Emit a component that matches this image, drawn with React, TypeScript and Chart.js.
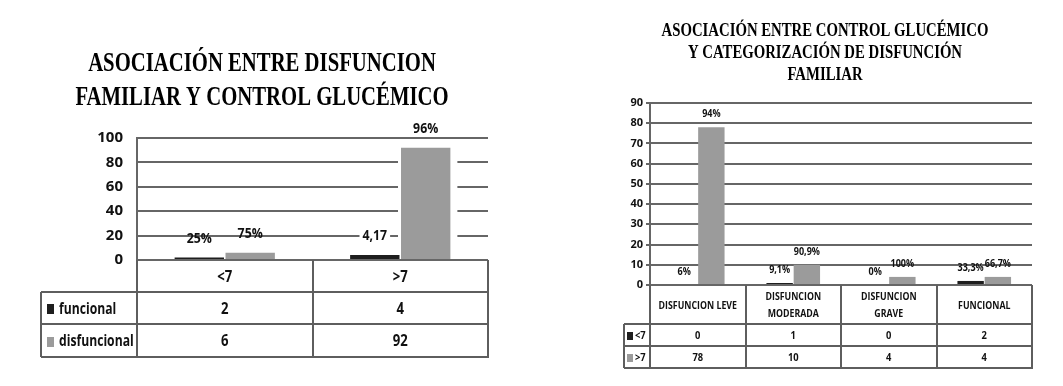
import React, { useEffect, useRef } from "react";
import { Chart, registerables } from "chart.js";

Chart.register(...registerables);

// ---------------- Left chart data ----------------
const leftTitle = ["ASOCIACIÓN ENTRE DISFUNCION", "FAMILIAR Y CONTROL GLUCÉMICO"];
const leftCategories = ["<7", ">7"];
const leftSeriesNames = ["funcional", "disfuncional"];
const leftFuncional = [2, 4];
const leftDisfuncional = [6, 92];
const leftFuncionalLabels = ["25%", "4,17"];
const leftDisfuncionalLabels = ["75%", "96%"];
const leftFuncionalLabelBoxed = [false, true];
const leftDisfuncionalLabelBoxed = [false, false];
const leftYMax = 100;
const leftYStep = 20;

// ---------------- Right chart data ----------------
const rightTitle = ["ASOCIACIÓN ENTRE CONTROL GLUCÉMICO", "Y CATEGORIZACIÓN DE DISFUNCIÓN", "FAMILIAR"];
const rightCategories = [["DISFUNCION LEVE"], ["DISFUNCION", "MODERADA"], ["DISFUNCION", "GRAVE"], ["FUNCIONAL"]];
const rightSeriesNames = ["<7", ">7"];
const rightMenor7 = [0, 1, 0, 2];
const rightMayor7 = [78, 10, 4, 4];
const rightMenor7Labels = ["6%", "9,1%", "0%", "33,3%"];
const rightMayor7Labels = ["94%", "90,9%", "100%", "66,7%"];
const rightYMax = 90;
const rightYStep = 10;

const DARK = "#1e1e1e";
const GREY = "#9b9b9b";
const SANS = "'Open Sans', 'DejaVu Sans', sans-serif";
const SERIF = "'Liberation Serif', 'Times New Roman', serif";

function drawText(
  ctx: CanvasRenderingContext2D,
  text: string,
  x: number,
  y: number,
  font: string,
  align: CanvasTextAlign,
  sx: number,
  color = "#111"
) {
  ctx.save();
  ctx.font = font;
  ctx.fillStyle = color;
  ctx.textBaseline = "middle";
  ctx.textAlign = align;
  ctx.translate(x, y);
  ctx.scale(sx, 1);
  ctx.fillText(text, 0, 0);
  ctx.restore();
}

type Cfg = {
  left: number;
  width: number;
  height: number;
  yWidth: number;
  padding: { top: number; right: number; bottom: number; left: number };
  yMax: number;
  yStep: number;
  tickFont: { family: string; size: number; weight: string };
  tickPadding: number;
  drawTicks: boolean;
  tickLength: number;
  gridColor: string;
  gridWidth: number;
  catPct: number;
  barPct: number;
  title: string[];
  titleFont: string;
  titleSx: number;
  titleX: number;
  titleYs: number[];
  labelFont: string;
  labelSx: number;
  labelOffset: number;
  halo: boolean;
  categories: (string | string[])[];
  seriesNames: string[];
  seriesValues: number[][];
  seriesColors: string[];
  seriesLabels: string[][];
  seriesLabelBoxed: boolean[][];
  table: {
    headerBottom: number;
    rowBottoms: number[];
    labelLeft: number;
    headerFont: string;
    headerSx: number;
    headerLineH: number;
    cellFont: string;
    cellSx: number;
    rowLabelFont: string;
    rowLabelSx: number;
    swatchX: number;
    swatchW: number;
    swatchH: number;
    textX: number;
    lineColor: string;
    lineWidth: number;
  };
};

function TableChart({ cfg }: { cfg: Cfg }) {
  const ref = useRef<HTMLCanvasElement | null>(null);
  useEffect(() => {
    if (!ref.current) return;
    const plugin = {
      id: "tableAndLabels",
      beforeDatasetsDraw(chart: any) {
        if (!cfg.halo) return;
        const ctx = chart.ctx as CanvasRenderingContext2D;
        ctx.save();
        ctx.fillStyle = "#ffffff";
        chart.data.datasets.forEach((_ds: any, di: number) => {
          chart.getDatasetMeta(di).data.forEach((bar: any) => {
            const h = bar.base - bar.y;
            if (h <= 0) return;
            ctx.fillRect(bar.x - bar.width / 2 - 3, bar.y - 3, bar.width + 10, h + 3 - 1.5);
          });
        });
        ctx.restore();
      },
      afterDraw(chart: any) {
        const ctx = chart.ctx as CanvasRenderingContext2D;
        const area = chart.chartArea;
        const xs = chart.scales.x;
        const t = cfg.table;
        // title
        cfg.title.forEach((line, i) => {
          drawText(ctx, line, cfg.titleX, cfg.titleYs[i], cfg.titleFont, "center", cfg.titleSx, "#000");
        });
        // value labels
        chart.data.datasets.forEach((_ds: any, di: number) => {
          chart.getDatasetMeta(di).data.forEach((bar: any, i: number) => {
            const txt = cfg.seriesLabels[di][i];
            const y = bar.y - cfg.labelOffset;
            if (cfg.seriesLabelBoxed[di][i]) {
              ctx.save();
              ctx.font = cfg.labelFont;
              const w = ctx.measureText(txt).width * cfg.labelSx;
              ctx.fillStyle = "#fff";
              ctx.fillRect(bar.x - w / 2 - 3, y - 8, w + 6, 16);
              ctx.restore();
            }
            drawText(ctx, txt, bar.x, y, cfg.labelFont, "center", cfg.labelSx, "#111");
          });
        });
        // table
        const n = cfg.categories.length;
        const cw = (area.right - area.left) / n;
        const last = t.rowBottoms[t.rowBottoms.length - 1];
        ctx.save();
        ctx.strokeStyle = t.lineColor;
        ctx.lineWidth = t.lineWidth;
        ctx.beginPath();
        [t.headerBottom, ...t.rowBottoms].forEach((y) => {
          ctx.moveTo(t.labelLeft, y);
          ctx.lineTo(area.right + 1, y);
        });
        for (let k = 0; k <= n; k++) {
          const x = Math.round(area.left + k * cw);
          ctx.moveTo(x, area.bottom);
          ctx.lineTo(x, last);
        }
        ctx.moveTo(t.labelLeft, t.headerBottom);
        ctx.lineTo(t.labelLeft, last);
        ctx.stroke();
        ctx.restore();
        // header
        cfg.categories.forEach((c, i) => {
          const lines = Array.isArray(c) ? c : [c];
          const cx = xs.getPixelForValue(i);
          const cy = (area.bottom + t.headerBottom) / 2 + 1;
          lines.forEach((s, j) => {
            drawText(ctx, s, cx, cy + (j - (lines.length - 1) / 2) * t.headerLineH, t.headerFont, "center", t.headerSx);
          });
        });
        // rows
        cfg.seriesNames.forEach((name, r) => {
          const top = r === 0 ? t.headerBottom : t.rowBottoms[r - 1];
          const bot = t.rowBottoms[r];
          const cy = (top + bot) / 2 + 1;
          ctx.save();
          ctx.fillStyle = cfg.seriesColors[r];
          ctx.fillRect(t.swatchX, Math.round(cy - t.swatchH / 2), t.swatchW, t.swatchH);
          ctx.restore();
          drawText(ctx, name, t.textX, cy, t.rowLabelFont, "left", t.rowLabelSx);
          cfg.seriesValues[r].forEach((v, i) => {
            drawText(ctx, String(v), xs.getPixelForValue(i), cy, t.cellFont, "center", t.cellSx);
          });
        });
      },
    };

    const chart = new Chart(ref.current, {
      type: "bar",
      data: {
        labels: cfg.categories as any,
        datasets: cfg.seriesNames.map((name, r) => ({
          label: name,
          data: cfg.seriesValues[r],
          backgroundColor: cfg.seriesColors[r],
          borderWidth: 0,
          categoryPercentage: cfg.catPct,
          barPercentage: cfg.barPct,
        })),
      },
      options: {
        responsive: false,
        animation: false,
        events: [],
        layout: { padding: cfg.padding },
        plugins: {
          legend: { display: false },
          title: { display: false },
          tooltip: { enabled: false },
        },
        scales: {
          x: { display: false },
          y: {
            min: 0,
            max: cfg.yMax,
            afterFit: (scale: any) => {
              scale.width = cfg.yWidth;
            },
            ticks: {
              stepSize: cfg.yStep,
              color: "#111",
              padding: cfg.tickPadding,
              font: cfg.tickFont as any,
            },
            grid: {
              color: cfg.gridColor,
              lineWidth: cfg.gridWidth,
              drawTicks: cfg.drawTicks,
              tickLength: cfg.tickLength,
            },
            border: { display: true, color: cfg.gridColor, width: cfg.gridWidth },
          },
        },
      },
      plugins: [plugin],
    });
    return () => chart.destroy();
  }, [cfg]);

  return (
    <canvas
      ref={ref}
      width={cfg.width}
      height={cfg.height}
      style={{ position: "absolute", left: cfg.left, top: 0, width: cfg.width, height: cfg.height }}
    />
  );
}

const leftCfg: Cfg = {
  left: 0,
  width: 560,
  height: 386,
  yWidth: 137,
  padding: { top: 138, right: 72, bottom: 126, left: 0 },
  yMax: leftYMax,
  yStep: leftYStep,
  tickFont: { family: SANS, size: 15, weight: "bold" },
  tickPadding: 14,
  drawTicks: false,
  tickLength: 0,
  gridColor: "#666666",
  gridWidth: 2,
  catPct: 0.58,
  barPct: 0.97,
  title: leftTitle,
  titleFont: `bold 28px ${SERIF}`,
  titleSx: 0.74,
  titleX: 262,
  titleYs: [64, 98],
  labelFont: `bold 15px ${SANS}`,
  labelSx: 0.82,
  labelOffset: 19,
  halo: true,
  categories: leftCategories,
  seriesNames: leftSeriesNames,
  seriesValues: [leftFuncional, leftDisfuncional],
  seriesColors: [DARK, GREY],
  seriesLabels: [leftFuncionalLabels, leftDisfuncionalLabels],
  seriesLabelBoxed: [leftFuncionalLabelBoxed, leftDisfuncionalLabelBoxed],
  table: {
    headerBottom: 292,
    rowBottoms: [324, 357],
    labelLeft: 41,
    headerFont: `bold 16px ${SANS}`,
    headerSx: 0.82,
    headerLineH: 17,
    cellFont: `bold 16px ${SANS}`,
    cellSx: 0.82,
    rowLabelFont: `bold 16px ${SANS}`,
    rowLabelSx: 0.76,
    swatchX: 47,
    swatchW: 7,
    swatchH: 10,
    textX: 59,
    lineColor: "#5e5e5e",
    lineWidth: 2,
  },
};

const rightCfg: Cfg = {
  left: 580,
  width: 483,
  height: 386,
  yWidth: 70,
  padding: { top: 103, right: 31, bottom: 101, left: 0 },
  yMax: rightYMax,
  yStep: rightYStep,
  tickFont: { family: SANS, size: 11, weight: "bold" },
  tickPadding: 3,
  drawTicks: true,
  tickLength: 4,
  gridColor: "#666666",
  gridWidth: 2,
  catPct: 0.57,
  barPct: 0.97,
  title: rightTitle,
  titleFont: `bold 18px ${SERIF}`,
  titleSx: 0.82,
  titleX: 245,
  titleYs: [31, 53, 75],
  labelFont: `bold 11px ${SANS}`,
  labelSx: 0.82,
  labelOffset: 13,
  halo: false,
  categories: rightCategories,
  seriesNames: rightSeriesNames,
  seriesValues: [rightMenor7, rightMayor7],
  seriesColors: [DARK, GREY],
  seriesLabels: [rightMenor7Labels, rightMayor7Labels],
  seriesLabelBoxed: [
    rightMenor7Labels.map(() => false),
    rightMayor7Labels.map(() => false),
  ],
  table: {
    headerBottom: 324,
    rowBottoms: [346, 368],
    labelLeft: 44,
    headerFont: `bold 11px ${SANS}`,
    headerSx: 0.8,
    headerLineH: 17,
    cellFont: `bold 11px ${SANS}`,
    cellSx: 0.85,
    rowLabelFont: `bold 11px ${SANS}`,
    rowLabelSx: 0.85,
    swatchX: 47,
    swatchW: 6,
    swatchH: 8,
    textX: 55,
    lineColor: "#5e5e5e",
    lineWidth: 2,
  },
};

export default function App() {
  return (
    <div style={{ position: "absolute", left: 0, top: 0, width: 1063, height: 386, background: "#fff", overflow: "hidden" }}>
      <TableChart cfg={leftCfg} />
      <TableChart cfg={rightCfg} />
    </div>
  );
}
